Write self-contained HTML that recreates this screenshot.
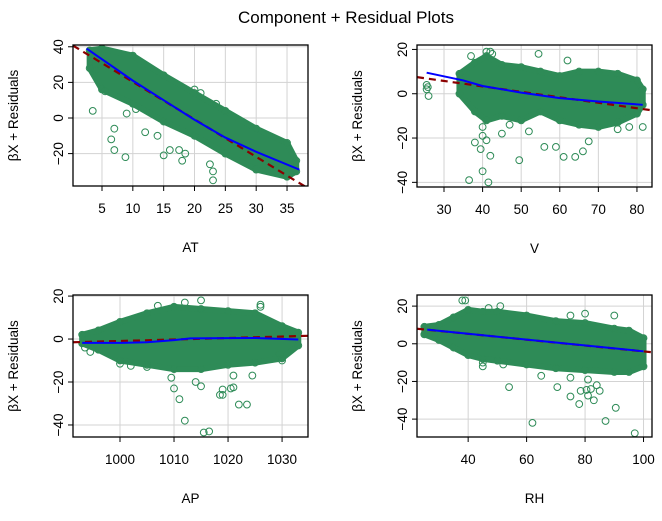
<!DOCTYPE html>
<html><head><meta charset="utf-8"><style>
body{margin:0;background:#fff;}
svg{display:block;font-family:"Liberation Sans",sans-serif;}
</style></head><body>
<svg id="chart" width="662" height="521" viewBox="0 0 662 521">
<text x="346" y="23" text-anchor="middle" font-size="17">Component + Residual Plots</text>
</svg>
<script>
// ---- Panel AT ----
const atXTicks=[5,10,15,20,25,30,35];
const atYTicks=[-20,0,20,40];
const atBandX=[3,5,10,15,20,25,30,35,36.5];
const atBandUpper=[38,39,35,24,14,4,-6,-14,-24];
const atBandLower=[28,16,8,-2,-10,-20,-29,-33,-30];
const atOutX=[3.5,7,6.5,7,8.8,9,12,14,15,16,17.5,18,18.5,20,21,22.5,23,23.5,23,10.5,4,5.5];
const atOutY=[4,-6,-12,-18,-22,2.5,-8,-10,-21,-18,-18,-24,-20,16,14,-26,-30,8,-35,5,27,15];
const atFitX=[0.3,38.4];
const atFitY=[40.7,-39.5];
const atSmoothX=[2.5,10,15,20,25,30,37];
const atSmoothY=[39,21,10,-1,-11,-19,-29];
// ---- Panel V ----
const vXTicks=[30,40,50,60,70,80];
const vYTicks=[-40,-20,0,20];
const vBandX=[34,38,41,45,50,55,60,65,70,75,80,81.5];
const vBandUpper=[9,14,17,13,12,10,8,10,10,9,6,2];
const vBandLower=[0,-8,-12,-10,-12,-8,-12,-14,-15,-13,-9,-5];
const vOutX=[36.5,41.5,40,38,39.5,40,41,42,40,45,47,49.5,52,54.5,56,59,61,62,64,66,67.5,37,42,81.5,78,75,25.5,26,25.5,25.8,41,42.5];
const vOutY=[-39,-40,-35,-22,-25,-19,-21,-28,-15,-18,-14,-30,-17,18,-24,-24,-28.5,15,-28.5,-26,-21.5,17,19,-15,-15,-16,4,-1,2,3,19,18];
const vFitX=[23,83.9];
const vFitY=[7.5,-7.5];
const vSmoothX=[25.5,35,40,50,60,70,81.5];
const vSmoothY=[9.5,6,3.5,0.5,-2,-3.5,-5];
// ---- Panel AP ----
const apXTicks=[1000,1010,1020,1030];
const apYTicks=[-40,-20,0,20];
const apBandX=[993,996,1000,1005,1010,1015,1020,1025,1030,1033];
const apBandUpper=[2,4,8,12,15,14,13,12,6,3];
const apBandLower=[-2,-5,-10,-12,-14,-14,-12,-11,-9,-3];
const apOutX=[993.5,994.5,1000,1002,1005,1009.5,1010,1011,1012,1014,1015,1015.5,1016.5,1019,1019,1018.5,1020.5,1021,1022,1023.5,1021,1024.5,1026,1026,1030,1015,1007,1012,1029.5];
const apOutY=[-4,-6,-11.5,-12.5,-13,-18,-23,-28,-38,-20,-22,-43.5,-43,-23.5,-26,-26,-23,-22.5,-30.5,-30.5,-17,-17,16,15,-10,18,15.5,17,-7];
const apFitX=[991.3,1034.8];
const apFitY=[-1.5,1.5];
const apSmoothX=[993,1000,1005,1010,1013,1020,1025,1033];
const apSmoothY=[-1.8,-1.8,-1.5,-0.5,0.3,0.4,0.5,-0.2];
// ---- Panel RH ----
const rhXTicks=[40,60,80,100];
const rhYTicks=[-40,-20,0,20];
const rhBandX=[25,30,35,40,45,50,60,70,80,90,95,100];
const rhBandUpper=[9,10,14,18,17,17,15,12,11,8,7,3];
const rhBandLower=[5,2,-2,-6,-8,-9,-11,-13,-14,-15,-15,-12];
const rhOutX=[54,62,70.5,75,78,78.5,80.5,81,81,82,83,84,85,87,90.5,97,90,80,75,38,39,45,45,52,65,75,47,51];
const rhOutY=[-23,-42,-23,-28,-32,-25,-24.5,-27.5,-19,-24,-30,-22,-25,-41,-34,-47.5,15,16,15,23,23,-10,-12,-11,-17,-18,19,20];
const rhFitX=[22.5,102.9];
const rhFitY=[8,-4.5];
const rhSmoothX=[26,100];
const rhSmoothY=[7.5,-4];

const NS="http://www.w3.org/2000/svg";
const svg=document.getElementById('chart');
const GREEN="#2E8B57";
function mk(tag,attrs,parent){const e=document.createElementNS(NS,tag);for(const k in attrs)e.setAttribute(k,attrs[k]);(parent||svg).appendChild(e);return e;}
const defs=mk('defs',{});
let clipN=0;
function panel(p){
  const g=mk('g',{});
  
  
  const sx=v=>p.x0+(v-p.xd[0])/(p.xd[1]-p.xd[0])*(p.x1-p.x0);
  const sy=v=>p.y1-(v-p.yd[0])/(p.yd[1]-p.yd[0])*(p.y1-p.y0);
  const cid='clip'+(clipN++);
  const cp=mk('clipPath',{id:cid},defs);
  mk('rect',{x:p.x0,y:p.y0,width:p.x1-p.x0,height:p.y1-p.y0},cp);
  p.xt.forEach(t=>{const l=mk('line',{x1:sx(t),x2:sx(t),y1:p.y0,y2:p.y1,stroke:'#d3d3d3','stroke-width':1},g);
    });
  p.yt.forEach(t=>{const l=mk('line',{x1:p.x0,x2:p.x1,y1:sy(t),y2:sy(t),stroke:'#d3d3d3','stroke-width':1},g);
    });
  const inner=mk('g',{'clip-path':'url(#'+cid+')'},g);
  
  
  let pts=[];
  p.bx.forEach((x,i)=>pts.push(sx(x)+','+sy(p.bu[i])));
  for(let i=p.bx.length-1;i>=0;i--)pts.push(sx(p.bx[i])+','+sy(p.bl[i]));
  const band=mk('polygon',{points:pts.join(' '),fill:GREEN,stroke:GREEN,'stroke-width':6,'stroke-linejoin':'round'},inner);
  
  
  p.bx.forEach((x,i)=>{[p.bu[i],p.bl[i]].forEach(y=>{
    const c=mk('circle',{cx:sx(x),cy:sy(y),r:3.4,fill:'none',stroke:GREEN,'stroke-width':1},inner);
    });});
  p.ox.forEach((x,i)=>{const c=mk('circle',{cx:sx(x),cy:sy(p.oy[i]),r:3.4,fill:'none',stroke:GREEN,'stroke-width':1},inner);
    });
  const f=mk('line',{x1:sx(p.fx[0]),y1:sy(p.fy[0]),x2:sx(p.fx[1]),y2:sy(p.fy[1]),stroke:'#8B0000','stroke-width':2.2,'stroke-dasharray':'7,5'},inner);
  
  const s=mk('polyline',{points:p.smx.map((x,i)=>sx(x)+','+sy(p.smy[i])).join(' '),fill:'none',stroke:'#0000FF','stroke-width':2},inner);
  
  const b=mk('rect',{x:p.x0,y:p.y0,width:p.x1-p.x0,height:p.y1-p.y0,fill:'none',stroke:'#000','stroke-width':1.3},g);
  
  p.xt.forEach(t=>{mk('line',{x1:sx(t),x2:sx(t),y1:p.y1,y2:p.y1+5,stroke:'#000'},g);
    const tx=mk('text',{x:sx(t),y:p.y1+27,'text-anchor':'middle','font-size':13.5},g);tx.textContent=t;
    });
  p.yt.forEach(t=>{mk('line',{x1:p.x0,x2:p.x0-5,y1:sy(t),y2:sy(t),stroke:'#000'},g);
    const tx=mk('text',{x:p.x0-10,y:sy(t),'text-anchor':'middle','font-size':13.5,transform:`rotate(-90 ${p.x0-10} ${sy(t)})`},g);
    tx.textContent=t<0?'\u2212'+(-t):t;
    });
  const xl=mk('text',{x:(p.x0+p.x1)/2,y:p.y1+66,'text-anchor':'middle','font-size':13.5},g);xl.textContent=p.name;
  
  const ly=(p.y0+p.y1)/2, lx=p.x0-55;
  const yl=mk('text',{x:lx,y:ly,'text-anchor':'middle','font-size':13.5,transform:`rotate(-90 ${lx} ${ly})`},g);yl.textContent='\u03B2X + Residuals';
  
}
panel({name:'AT',x0:73,x1:308,y0:45,y1:186,xd:[0.3,38.4],yd:[-38.2,41],xt:atXTicks,yt:atYTicks,bx:atBandX,bu:atBandUpper,bl:atBandLower,ox:atOutX,oy:atOutY,fx:atFitX,fy:atFitY,smx:atSmoothX,smy:atSmoothY});
panel({name:'V',x0:417,x1:652,y0:45,y1:187,xd:[23,83.9],yd:[-42.1,22],xt:vXTicks,yt:vYTicks,bx:vBandX,bu:vBandUpper,bl:vBandLower,ox:vOutX,oy:vOutY,fx:vFitX,fy:vFitY,smx:vSmoothX,smy:vSmoothY});
panel({name:'AP',x0:73,x1:308,y0:295,y1:437,xd:[991.3,1034.8],yd:[-45.6,20.5],xt:apXTicks,yt:apYTicks,bx:apBandX,bu:apBandUpper,bl:apBandLower,ox:apOutX,oy:apOutY,fx:apFitX,fy:apFitY,smx:apSmoothX,smy:apSmoothY});
panel({name:'RH',x0:417,x1:652,y0:295,y1:437,xd:[22.5,102.9],yd:[-49.5,25.9],xt:rhXTicks,yt:rhYTicks,bx:rhBandX,bu:rhBandUpper,bl:rhBandLower,ox:rhOutX,oy:rhOutY,fx:rhFitX,fy:rhFitY,smx:rhSmoothX,smy:rhSmoothY});
</script>
</body></html>
